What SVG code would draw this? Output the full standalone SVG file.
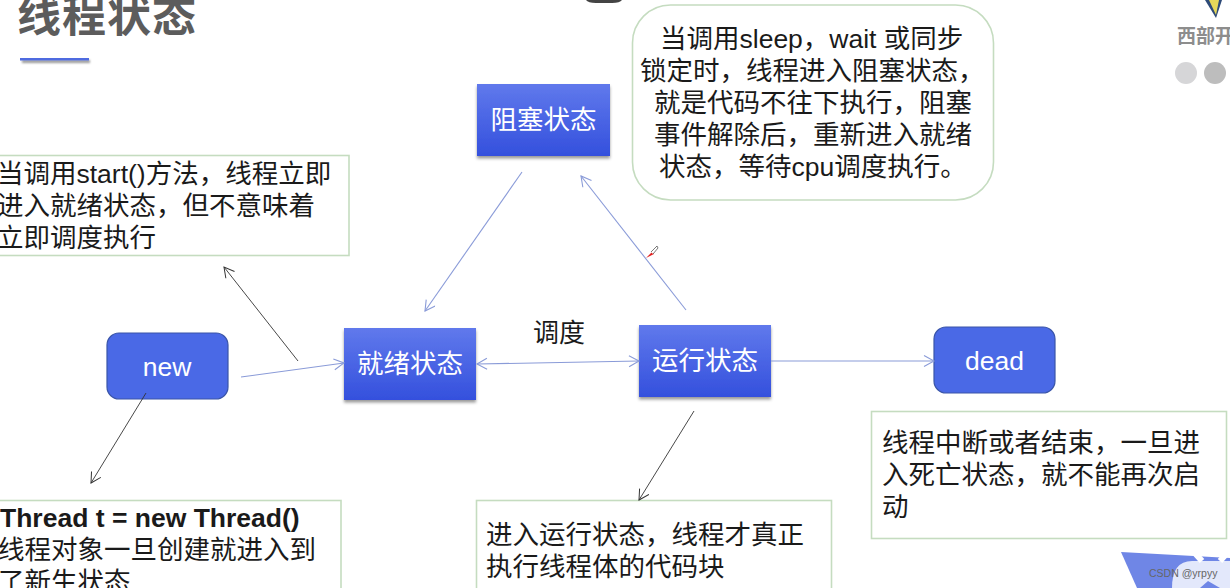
<svg xmlns="http://www.w3.org/2000/svg" width="1230" height="588" viewBox="0 0 1230 588">
<style>
text{font-family:"Liberation Sans","Noto Sans CJK SC",sans-serif}
.t{font-size:26.5px;fill:#1a1a1a}
.n{font-size:26.5px;fill:#fff;text-anchor:middle}
.box{fill:url(#g);filter:url(#s)}
.rr{fill:#4a69e6;stroke:#3a55a8;stroke-width:1.2}
.note{fill:#fff;stroke:#c5dcc0;stroke-width:1.6}
.b{stroke:#8a9bd8;stroke-width:1.1;fill:none;marker-end:url(#ab)}
.k{stroke:#333;stroke-width:.9;fill:none;marker-end:url(#ak)}
</style>
<defs>
<linearGradient id="g" x1="0" y1="0" x2="0" y2="1"><stop offset="0" stop-color="#6079ec"/><stop offset="1" stop-color="#3450dd"/></linearGradient>
<filter id="s" x="-10%" y="-10%" width="120%" height="125%"><feDropShadow dx="0" dy="2.5" stdDeviation="1.6" flood-color="#000" flood-opacity=".4"/></filter>
<filter id="u" x="-10%" y="-100%" width="120%" height="400%"><feGaussianBlur stdDeviation="1.2"/></filter>
<marker id="ab" markerUnits="userSpaceOnUse" markerWidth="14" markerHeight="14" refX="11" refY="6" orient="auto-start-reverse"><path d="M1 .5L11 6L1 11.5" fill="none" stroke="#8a9bd8" stroke-width="1.1"/></marker>
<marker id="ak" markerUnits="userSpaceOnUse" markerWidth="14" markerHeight="14" refX="11" refY="6" orient="auto"><path d="M1 .5L11 6L1 11.5" fill="none" stroke="#333" stroke-width="1"/></marker>
</defs>
<rect width="1230" height="588" fill="#fff"/>
<g id="title">
<text x="17" y="32" font-size="44" font-weight="700" fill="#5c5c5c" letter-spacing="1">线程状态</text>
<rect x="22" y="60" width="68" height="3" fill="#999" filter="url(#u)"/>
<rect x="20" y="58" width="69" height="2.500" fill="#4f6be0"/>
</g>
<path d="M586 0H622Q620 3 612 3H596Q588 3 586 0Z" fill="#444"/>
<g id="logo">
<path d="M1205 0H1222L1216 18Z" fill="#2e4a78"/>
<path d="M1209 0H1219L1216 15Z" fill="#e6d85a"/>
<text x="1177" y="43" font-size="19" font-weight="700" fill="#8d8d8d">西部开</text>
<circle cx="1186" cy="73" r="11" fill="#d6d6d8"/><circle cx="1215" cy="73" r="11" fill="#bdbdbd"/>
</g>
<g id="note-start"><rect class="note" x="-3" y="155.500" width="352" height="100"/>
<text class="t" x="-3" y="183">当调用start()方法，线程立即</text><text class="t" x="-3" y="215">进入就绪状态，但不意味着</text><text class="t" x="-3" y="247">立即调度执行</text></g>
<g id="note-block"><rect class="note" x="632.500" y="5" width="361" height="195" rx="38"/>
<text class="t" x="660" y="48">当调用sleep，wait 或同步</text><text class="t" x="640" y="80">锁定时，线程进入阻塞状态，</text><text class="t" x="654" y="112">就是代码不往下执行，阻塞</text><text class="t" x="654" y="144">事件解除后，重新进入就绪</text><text class="t" x="659" y="176">状态，等待cpu调度执行。</text></g>
<g id="note-new"><rect class="note" x="-3" y="500.500" width="344" height="100"/>
<text class="t" x="0" y="527" font-weight="700">Thread t = new Thread()</text><text class="t" x="-2" y="559">线程对象一旦创建就进入到</text><text class="t" x="-2" y="591">了新生状态</text></g>
<g id="note-run"><rect class="note" x="476.500" y="500.500" width="355" height="100"/>
<text class="t" x="486" y="544">进入运行状态，线程才真正</text><text class="t" x="486" y="576">执行线程体的代码块</text></g>
<g id="note-dead"><rect class="note" x="871.500" y="411.500" width="355" height="127"/>
<text class="t" x="882" y="452">线程中断或者结束，一旦进</text><text class="t" x="882" y="484">入死亡状态，就不能再次启</text><text class="t" x="882" y="516">动</text></g>
<g id="blocked"><rect class="box" x="477" y="84" width="133" height="72"/><text class="n" x="543.500" y="129">阻塞状态</text></g>
<g id="ready"><rect class="box" x="344" y="328" width="132" height="72"/><text class="n" x="410" y="373">就绪状态</text></g>
<g id="running"><rect class="box" x="639" y="325" width="132" height="72"/><text class="n" x="705" y="370">运行状态</text></g>
<g id="new"><rect class="rr" x="107" y="333" width="121" height="66" rx="12"/><text class="n" x="167" y="376">new</text></g>
<g id="dead"><rect class="rr" x="934" y="327" width="121" height="66" rx="12"/><text class="n" x="994.500" y="370">dead</text></g>
<g id="connectors">
<path class="b" d="M241 377L344 363"/>
<path class="b" d="M522 172L425 311"/>
<path class="b" d="M686 310L581 176"/>
<path class="b" d="M477 364L639 361" marker-start="url(#ab)"/>
<path class="b" d="M771 361H934"/>
<path class="k" d="M298 361L224 267"/>
<path class="k" d="M146 393L91 483"/>
<path class="k" d="M694 411L639 500"/>
</g>
<text x="533" y="342" font-size="26" fill="#1a1a1a">调度</text>
<g id="cursor"><path d="M646 258L652 252L654 254Z" fill="#e02020"/><path d="M651 252L657 246L658 248L653 254" fill="#fff" stroke="#444" stroke-width=".7"/></g>
<g id="corner"><path d="M1121 552L1230 558V588H1137Z" fill="#6f86e6"/>
<path d="M1172 588Q1172 561 1192 561H1230V588Z" fill="#e3e8fb"/>
<path d="M1193 551L1202 561M1229 551L1220 561" stroke="#fff" stroke-width="6" fill="none"/>
<path d="M1200 588L1208 581L1220 588Z" fill="#6f86e6"/>
<text x="1149" y="577" font-size="10.500" fill="#666">CSDN @yrpyy</text></g>
</svg>
